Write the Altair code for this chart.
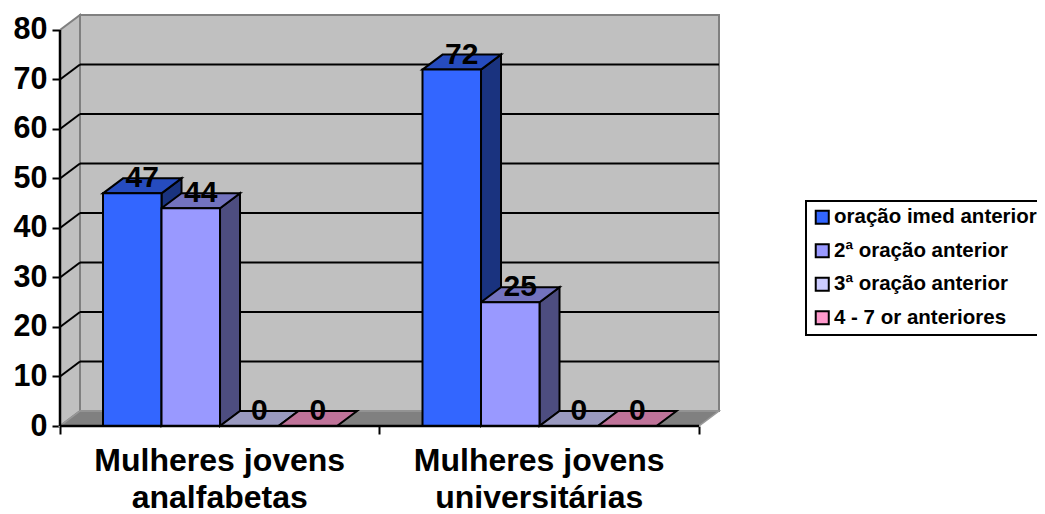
import altair as alt
import pandas as pd

categories = ["Mulheres jovens\nanalfabetas", "Mulheres jovens\nuniversitárias"]
series = ["oração imed anterior", "2ª oração anterior", "3ª oração anterior", "4 - 7 or anteriores"]
values_by_series = [[47, 72], [44, 25], [0, 0], [0, 0]]
y_ticks = [0, 10, 20, 30, 40, 50, 60, 70, 80]
x_ticks = [0, 1, 2]
front_colors = ["#3366FF", "#9999FF", "#CCCCFF", "#FF99CC"]
top_colors = ["#264CBF", "#7373BF", "#9999BF", "#BF7399"]
side_colors = ["#1A337F", "#4D4D80", "#66667F", "#7F4D66"]

FONT = "Liberation Sans"
DX = 0.0626      # 3-D depth in group units
DY = 3.03        # 3-D depth in value units
BAR_W = 0.1831
BAR_OFF = 0.1346
YMAX = 80
XEND = len(categories)

xs = alt.Scale(domain=[0, XEND + DX], nice=False, zero=False)
ys = alt.Scale(domain=[0, YMAX + DY], nice=False, zero=False)
x_axis = alt.Axis(values=x_ticks, labels=False, domain=False, grid=False,
                  tickSize=8, tickWidth=2, tickColor="black", title=None)
y_axis = alt.Axis(values=y_ticks, domain=False, grid=False, tickSize=8, tickWidth=2,
                  tickColor="black", labelFont=FONT, labelFontSize=30.5,
                  labelFontWeight="bold", labelColor="black", labelPadding=5, title=None)
X = lambda f="x": alt.X(f"{f}:Q", scale=xs, axis=x_axis)
Y = lambda f="y": alt.Y(f"{f}:Q", scale=ys, axis=y_axis)

front, sides, tops, labels = [], [], [], []
for g in range(len(categories)):
    for s, name in enumerate(series):
        v = values_by_series[s][g]
        x0 = g + BAR_OFF + s * BAR_W
        x1 = x0 + BAR_W
        bid = f"{g}-{s}"
        front.append(dict(x=x0, x2=x1, y=0, y2=v, series=name))
        if v > 0:
            sides += [dict(id=bid, x=x1, y=0, y2=v, c=side_colors[s]),
                      dict(id=bid, x=x1 + DX, y=DY, y2=v + DY, c=side_colors[s])]
        tops += [dict(id=bid, y=v, x=x0, x2=x1, c=top_colors[s]),
                 dict(id=bid, y=v + DY, x=x0 + DX, x2=x1 + DX, c=top_colors[s])]
        labels.append(dict(x=(x0 + x1 + DX) / 2, y=v + DY, t=str(v)))

WALL = "#C0C0C0"
EDGE = "#808080"

back_wall = alt.Chart(pd.DataFrame([dict(x=DX, x2=XEND + DX, y=DY, y2=YMAX + DY)])).mark_rect(
    fill=WALL, stroke=EDGE, strokeWidth=2).encode(
    x=X(), x2="x2:Q", y=Y(), y2="y2:Q")

left_wall = alt.Chart(pd.DataFrame([dict(x=0, y=0, y2=YMAX), dict(x=DX, y=DY, y2=YMAX + DY)])).mark_area(
    orient="vertical", fill=WALL, stroke=EDGE, strokeWidth=2).encode(
    x=X(), y=Y(), y2="y2:Q")

floor = alt.Chart(pd.DataFrame([dict(y=0, x=0, x2=XEND), dict(y=DY, x=DX, x2=XEND + DX)])).mark_area(
    orient="horizontal", fill=EDGE, stroke="#999999", strokeWidth=1.5).encode(
    x=X(), x2="x2:Q", y=Y())

grid_df = pd.DataFrame([dict(x=DX, x2=XEND + DX, y=t + DY) for t in y_ticks[1:-1]])
grid = alt.Chart(grid_df).mark_rule(color="black", strokeWidth=2).encode(
    x=X(), x2="x2:Q", y=Y())

diag_df = pd.DataFrame([dict(x=0, x2=DX, y=t, y2=t + DY) for t in y_ticks[1:-1]])
diag = alt.Chart(diag_df).mark_rule(color="black", strokeWidth=2).encode(
    x=X(), x2="x2:Q", y=Y(), y2="y2:Q")

axes = alt.Chart(pd.DataFrame([dict(x=0, y=0, y2=YMAX)])).mark_rule(color="black", strokeWidth=2.5).encode(
    x=X(), y=Y(), y2="y2:Q")

base_line = alt.Chart(pd.DataFrame([dict(x=0, x2=XEND, y=0)])).mark_rule(color="black", strokeWidth=2.5).encode(
    x=X(), x2="x2:Q", y=Y())

side_l = alt.Chart(pd.DataFrame(sides)).mark_area(orient="vertical", stroke="black", strokeWidth=2).encode(
    x=X(), y=Y(), y2="y2:Q", detail="id:N", fill=alt.Fill("c:N", scale=None))

top_l = alt.Chart(pd.DataFrame(tops)).mark_area(orient="horizontal", stroke="black", strokeWidth=2).encode(
    x=X(), x2="x2:Q", y=Y(), detail="id:N", fill=alt.Fill("c:N", scale=None))

front_l = alt.Chart(pd.DataFrame(front)).mark_rect(stroke="black", strokeWidth=2).encode(
    x=X(), x2="x2:Q", y=Y(), y2="y2:Q",
    fill=alt.Fill("series:N", scale=alt.Scale(domain=series, range=front_colors),
                  legend=alt.Legend(title=None, orient="none", legendX=746, legendY=186,
                                    symbolType="square", symbolSize=170,
                                    symbolStrokeColor="black", symbolStrokeWidth=2,
                                    labelFont=FONT, labelFontSize=20.5, labelFontWeight="bold",
                                    labelColor="black", labelOffset=1.5, labelLimit=400,
                                    rowPadding=11.5, padding=6,
                                    strokeColor="black", symbolOpacity=1)))

val_text = alt.Chart(pd.DataFrame(labels)).mark_text(
    font=FONT, fontSize=30, fontWeight="bold", color="black", baseline="middle", align="center").encode(
    x=X(), y=Y(), text="t:N")

cat_df = pd.DataFrame([dict(x=i + 0.5, y=0, t=c) for i, c in enumerate(categories)])
cat_text = alt.Chart(cat_df).mark_text(
    font=FONT, fontSize=32, fontWeight="bold", color="black", align="center",
    baseline="alphabetic", lineBreak="\n", lineHeight=36.5, dy=45).encode(
    x=X(), y=Y(), text="t:N")

chart = alt.layer(back_wall, left_wall, floor, grid, diag, axes, side_l, top_l, front_l,
                  base_line, val_text, cat_text).properties(
    width=659, height=411,
    autosize=alt.AutoSizeParams(type="none"),
    padding={"left": 52, "top": 7, "right": 318, "bottom": 88},
).configure_view(stroke=None).configure_legend(strokeWidth=2)

chart.save("out.html", embed_options={"renderer": "svg", "actions": False})
